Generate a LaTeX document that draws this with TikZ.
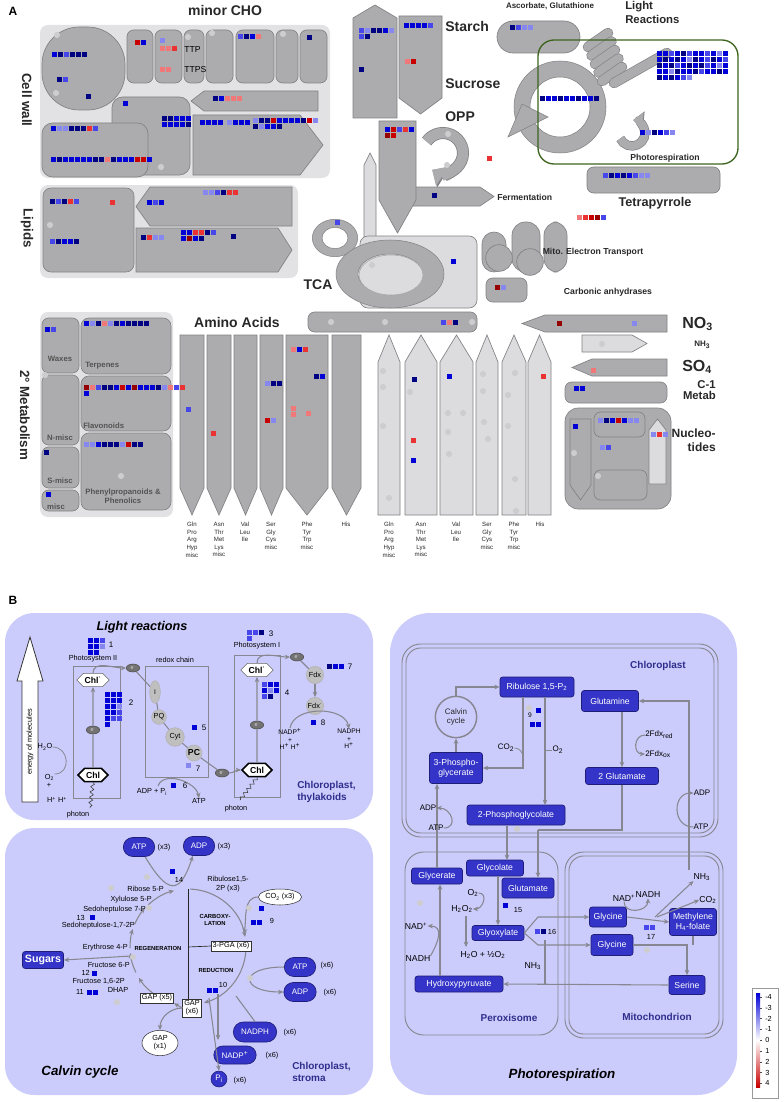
\documentclass[tikz,border=0pt]{standalone}
\usepackage{fontspec}
\setmainfont{Liberation Sans}
\usetikzlibrary{arrows.meta,calc,shapes.geometric,shapes.misc,shapes.symbols,decorations.pathmorphing}
\definecolor{B4}{RGB}{0,0,130}
\definecolor{B3}{RGB}{0,0,215}
\definecolor{B2}{RGB}{70,70,235}
\definecolor{B1}{RGB}{135,135,240}
\definecolor{R1}{RGB}{240,120,120}
\definecolor{R2}{RGB}{235,50,50}
\definecolor{R3}{RGB}{200,0,0}
\definecolor{R4}{RGB}{150,0,0}
\definecolor{gbox}{RGB}{172,172,174}
\definecolor{gedge}{RGB}{130,130,132}
\definecolor{gbg}{RGB}{226,226,229}
\definecolor{glt}{RGB}{220,220,222}
\definecolor{gdot}{RGB}{205,205,207}
\definecolor{lav}{RGB}{204,204,252}
\definecolor{dblue}{RGB}{52,52,200}
\definecolor{dbedge}{RGB}{30,30,120}
\definecolor{ttl}{RGB}{45,45,140}
\definecolor{agray}{RGB}{135,135,145}
\definecolor{lgreen}{RGB}{60,100,30}
\definecolor{txt}{RGB}{40,40,40}
\newcommand{\hm}[3]{\foreach \hc [count=\hi from 0] in {#3} {\fill[\hc] ({#1+6*\hi},#2) rectangle ++(5,5);}}
\newcommand{\gd}[2]{\fill[gdot] (#1,#2) circle (2.3pt);}
\newcommand{\pdown}[6]{\draw[#1] (#2,#4) -- (#3,#4) -- (#3,#5) -- ({(#2+#3)/2},#6) -- (#2,#5) -- cycle;}
\newcommand{\pup}[6]{\draw[#1] (#2,#6) -- (#2,#5) -- ({(#2+#3)/2},#4) -- (#3,#5) -- (#3,#6) -- cycle;}
\newcommand{\pright}[6]{\draw[#1] (#2,#5) -- (#3,#5) -- (#4,{(#5+#6)/2}) -- (#3,#6) -- (#2,#6) -- cycle;}
\newcommand{\pleft}[6]{\draw[#1] (#2,{(#5+#6)/2}) -- (#3,#5) -- (#4,#5) -- (#4,#6) -- (#3,#6) -- cycle;}
\tikzset{
 dk/.style={fill=gbox,draw=gedge,line width=0.5pt},
 lt/.style={fill=glt,draw=gedge,line width=0.5pt},
 hd/.style={font=\fontsize{10.5}{12}\selectfont\bfseries,inner sep=0,text=txt},
 hs/.style={font=\fontsize{6.5}{7.5}\selectfont\bfseries,inner sep=0,text=txt},
 sm/.style={font=\fontsize{5.8}{6.5}\selectfont\bfseries,inner sep=0,text=txt!80},
 aa/.style={font=\fontsize{4.6}{5.7}\selectfont,inner sep=0,align=center,anchor=north,text=txt},
 t5/.style={font=\fontsize{5}{5.6}\selectfont,inner sep=0,align=center},
 t55/.style={font=\fontsize{5.5}{6.2}\selectfont,inner sep=0,align=center},
 t6/.style={font=\fontsize{6}{6.8}\selectfont,inner sep=0,align=center},
 t65/.style={font=\fontsize{6.5}{7.4}\selectfont,inner sep=0,align=center},
 bi/.style={font=\fontsize{9.5}{11}\selectfont\bfseries\itshape,inner sep=0},
 ttlf/.style={font=\fontsize{7.5}{9}\selectfont\bfseries,text=ttl,inner sep=0},
 arr/.style={draw=agray,line width=0.8pt,-{Stealth[length=4pt,width=3.5pt]}},
 ln/.style={draw=agray,line width=0.8pt},
 wh/.style 2 args={minimum width=#1*0.75pt,minimum height=#2*0.75pt},
 bbx/.style={fill=dblue,draw=dbedge,line width=0.5pt,rounded corners=2pt,text=white,font=\fontsize{6.5}{7.2}\selectfont,align=center,inner sep=1pt},
 bpill/.style={rounded rectangle,fill=dblue,draw=dbedge,line width=0.5pt,text=white,font=\fontsize{6}{7}\selectfont,inner sep=1pt},
 hexn/.style={signal,signal to=east and west,draw=black!60,fill=white,font=\fontsize{6.5}{7}\selectfont\bfseries,inner sep=1pt,minimum height=10pt,minimum width=21pt},
 eln/.style={ellipse,fill=black!55,draw=black!70,text=black!15,font=\fontsize{4}{4}\selectfont,inner sep=0,minimum width=10pt,minimum height=6pt},
 gcn/.style={circle,fill=black!25,draw=black!30,font=\fontsize{5.5}{6}\selectfont,inner sep=0.5pt},
 wbox/.style={fill=white,draw=black!80,font=\fontsize{5.5}{6.2}\selectfont,inner sep=1.2pt,align=center},
}
\begin{document}
\begin{tikzpicture}[x=0.75pt,y=-0.75pt]
\useasboundingbox (0,0) rectangle (783,1102);
\fill[white] (0,0) rectangle (783,1102);

%%%%%%%%%%%%%%%% PANEL A %%%%%%%%%%%%%%%%
\node[font=\fontsize{9}{10}\selectfont\bfseries,inner sep=0] (lA) at (13,11) {A};
\node[hd] (lminor) at (225,10) {minor CHO};
% backgrounds
\fill[gbg,rounded corners=6pt] (40,25) rectangle (330,178);
\fill[gbg,rounded corners=6pt] (40,185) rectangle (298,278);
\fill[gbg,rounded corners=6pt] (40,312) rectangle (173,517);
% cell wall
\draw[dk,rounded corners=28pt] (42,27) rectangle (125,110);
\foreach \a/\b in {127/153,155/182,184/204,206/233,236/274,276/298,300/327} {\draw[dk,rounded corners=5pt] (\a,30) rectangle (\b,83);}
\draw[dk,rounded corners=8pt] (112,97) rectangle (190,175);
\pleft{dk}{191}{204}{318}{91}{111}
\pright{dk}{193}{300}{323}{115}{175}
\draw[dk,rounded corners=8pt] (42,123) rectangle (148,177);
\node[font=\fontsize{6.5}{7}\selectfont,inner sep=0,anchor=west] (lttp) at (184,50) {TTP};
\node[font=\fontsize{6.5}{7}\selectfont,inner sep=0,anchor=west] (lttps) at (184,70) {TTPS};
\node[hd,rotate=-90,font=\fontsize{10}{12}\selectfont\bfseries] (lcw) at (27,100) {Cell wall};
% lipids
\draw[dk,rounded corners=6pt] (43,188) rectangle (134,272);
\pleft{dk}{136}{150}{292}{187}{226}
\pright{dk}{136}{278}{292}{228}{272}
\node[hd,rotate=-90,font=\fontsize{10}{12}\selectfont\bfseries] (llip) at (27,228) {Lipids};
% starch / sucrose / OPP
\pup{dk}{353}{397}{5}{18}{118}
\pdown{dk}{399}{442}{16}{98}{114}
\pright{dk}{412}{480}{494}{187}{206}
\pdown{dk}{379}{416}{121}{200}{233}
\pup{lt}{364}{376}{153}{165}{245}
\node[hd,anchor=west] (lstarch) at (445,26) {Starch};
\node[hd,anchor=west] (lsuc) at (445,84) {Sucrose};
\node[hd,anchor=west] (lopp) at (445,117) {OPP};
\node[hs,anchor=west] (lferm) at (497,197) {Fermentation};
\draw[draw=gedge,line width=9pt,-{Triangle[width=18pt,length=10pt]}] ($(443,153)+(145:15pt)$) arc[start angle=145,end angle=-122,radius=15pt];
\draw[draw=gbox,line width=7.8pt,-{Triangle[width=16.5pt,length=9pt]}] ($(443,153)+(145:15pt)$) arc[start angle=145,end angle=-123,radius=15pt];
% ring
\fill[gbox,draw=gedge,even odd rule] (335,238) ellipse (17pt and 14pt) ellipse (9.75pt and 8pt);
% TCA
\draw[lt,rounded corners=6pt] (360,236) rectangle (477,308);
\fill[gbox,draw=gedge,even odd rule] (390,274) ellipse (40.5pt and 25.5pt) ellipse (24pt and 15pt);
\fill[glt,draw=gedge!70] (391,275) ellipse (24pt and 15pt);
\node[hd] (ltca) at (318,285) {TCA};
% mito
\draw[dk,rounded corners=9pt] (482,232) rectangle (506,272);
\draw[dk,rounded corners=10pt] (512,222) rectangle (540,272);
\draw[dk,rounded corners=10pt] (544,222) rectangle (567,272);
\draw[dk] (499,258) circle (10pt);
\draw[dk] (530,262) circle (10pt);
\node[hs] (lmito) at (593,252) {Mito. Electron Transport};
\draw[dk,rounded corners=5pt] (486,278) rectangle (527,302);
\node[hs] (lcarb) at (608,292) {Carbonic anhydrases};
% ascorbate
\draw[dk,rounded corners=12pt] (497,21) rectangle (580,53);
\node[hs,font=\fontsize{6}{7}\selectfont\bfseries] (lasc) at (550,6) {Ascorbate, Glutathione};
% light reactions area
\fill[gbox,draw=gedge,even odd rule] (560,107) circle (34.5pt) circle (22.5pt);
\fill[gbox,draw=gedge] (548,117) -- (508,137) -- (522,104) -- cycle;
\foreach \cx/\cy in {598/40,601.5/48.5,605/57,608.5/65.5,612/74} {
 \draw[gedge,line width=7.8pt,line cap=round] ({\cx-10},{\cy+7}) -- ({\cx+10},{\cy-7});
 \draw[gbox,line width=6.8pt,line cap=round] ({\cx-10},{\cy+7}) -- ({\cx+10},{\cy-7});}
\draw[gedge,line width=7.8pt,line cap=round] (614,83) -- (667,53);
\draw[gbox,line width=6.8pt,line cap=round] (614,83) -- (667,53);
\draw[draw=gedge,line width=7pt,-{Triangle[width=14pt,length=8pt]}] ($(632,133)+(205:9.75pt)$) arc[start angle=205,end angle=445,radius=9.75pt];
\draw[draw=gbox,line width=6pt,-{Triangle[width=12.5pt,length=7pt]}] ($(632,133)+(205:9.75pt)$) arc[start angle=205,end angle=444,radius=9.75pt];
\draw[lgreen,line width=1pt,rounded corners=12pt] (538,40) rectangle (738,164);
\node[hs,font=\fontsize{8.5}{10.5}\selectfont\bfseries,anchor=north west,align=left] (llight) at (625,1) {Light\\Reactions};
\node[hs] (lphot) at (665,158) {Photorespiration};
% tetrapyrrole
\draw[dk,rounded corners=5pt] (587,167) rectangle (720,193);
\node[hd,font=\fontsize{9.5}{11}\selectfont\bfseries] (ltet) at (655,203) {Tetrapyrrole};
% amino acids
\draw[dk,rounded corners=5pt] (308,312) rectangle (477,332);
\node[hd] (laa) at (237,322) {Amino Acids};
\foreach \a/\b in {180/204,207/231,234/257,260/283,286/328,332/361} {\pdown{dk}{\a}{\b}{335}{488}{515}}
\foreach \a/\b in {378/400,405/437,440/473,476/498,502/526,528/551} {\pup{lt}{\a}{\b}{335}{362}{515}}
\foreach \x/\t [count=\k] in {192/{Gln\\Pro\\Arg\\Hyp\\misc},219/{Asn\\Thr\\Met\\Lys\\misc},245/{Val\\Leu\\Ile},271/{Ser\\Gly\\Cys\\misc},307/{Phe\\Tyr\\Trp\\misc},346/{His},389/{Gln\\Pro\\Arg\\Hyp\\misc},421/{Asn\\Thr\\Met\\Lys\\misc},456/{Val\\Leu\\Ile},487/{Ser\\Gly\\Cys\\misc},514/{Phe\\Tyr\\Trp\\misc},540/{His}} {\node[aa] (aal\k) at (\x,522) {\t};}
% N, S, C1, nucleotides
\pleft{dk}{522}{545}{667}{315}{332}
\pright{lt}{582}{632}{647}{335}{352}
\pleft{dk}{572}{592}{667}{359}{376}
\draw[dk,rounded corners=5pt] (565,382) rectangle (667,403);
\draw[dk,rounded corners=10pt] (565,408) rectangle (671,509);
\pdown{dk}{570}{591}{419}{485}{500}
\draw[dk,rounded corners=5pt] (594,412) rectangle (645,437);
\draw[dk,rounded corners=5pt] (594,470) rectangle (647,500);
\pup{lt}{649}{666}{419}{430}{484}
\node[hd,font=\fontsize{12}{13}\selectfont\bfseries,anchor=west] (lno3) at (682,324) {NO\textsubscript{3}};
\node[hs,font=\fontsize{6}{7}\selectfont\bfseries,anchor=west] (lnh3) at (694,345) {NH\textsubscript{3}};
\node[hd,font=\fontsize{12}{13}\selectfont\bfseries,anchor=west] (lso4) at (682,367) {SO\textsubscript{4}};
\node[hd,font=\fontsize{8.5}{8.5}\selectfont\bfseries,anchor=east,align=right] (lc1) at (716,390) {C-1\\Metab};
\node[hd,font=\fontsize{9}{10.5}\selectfont\bfseries,anchor=east,align=right] (lnuc) at (716,440) {Nucleo-\\tides};
% secondary metabolism
\draw[dk,rounded corners=5pt] (42,318) rectangle (79,373);
\draw[dk,rounded corners=5pt] (42,375) rectangle (79,445);
\draw[dk,rounded corners=5pt] (42,447) rectangle (79,488);
\draw[dk,rounded corners=5pt] (42,490) rectangle (79,511);
\draw[dk,rounded corners=6pt] (81,318) rectangle (171,374);
\draw[dk,rounded corners=6pt] (81,376) rectangle (171,431);
\draw[dk,rounded corners=6pt] (81,433) rectangle (171,510);
\node[hd,rotate=-90,font=\fontsize{10}{12}\selectfont\bfseries] (l2m) at (25,415) {2° Metabolism};
\node[sm] (lwax) at (60,359) {Waxes};
\node[sm] (lnm) at (60,438) {N-misc};
\node[sm] (lsm) at (60,481) {S-misc};
\node[sm] (lmisc) at (56,507) {misc};
\node[sm,anchor=west] (lterp) at (85,366) {Terpenes};
\node[sm,anchor=west] (lflav) at (83,426) {Flavonoids};
\node[sm,align=center] (lphen) at (123,496) {Phenylpropanoids \&\\Phenolics};
% gray dots
\foreach \p/\q in {57/35,56/93,188/37,212/33,283/34,161/167,50/225,372/265,448/134,447/165,331/322,385/322,472/322,383/371,383/387,383/426,389/498,410/392,448/413,463/413,448/432,449/454,483/374,483/391,484/422,488/439,515/373,508/395,508/426,515/479,516/511,602/344,574/453,598/476,45/375,121/476} {\gd{\p}{\q}}
% heat-map squares, panel A
\hm{52}{52}{B3,B4,B2,B4,B4,B4}
\hm{57}{77}{B4,B2}
\hm{86}{94}{B4}
\hm{135}{40}{R3,B3}
\hm{160}{38}{B1}
\hm{160}{46}{R1,R1,R2}
\hm{160}{67}{R1,R1}
\hm{238}{34}{B2,B4,B3,R1}
\hm{307}{35}{B4}
\hm{123}{101}{B3}
\hm{162}{116}{B4,B4,B3,B3,B3}
\hm{162}{122}{B3,B3,B3,B3,B4}
\hm{213}{96}{B4,B3,R1,R1,R1}
\hm{200}{120}{B3,B3,B3,B3}
\hm{227}{120}{B1,B3,B3,B3}
\hm{253}{118}{B1,B4,B4,R3,B3,B3,B3,B3,B4,R3,B1}
\hm{253}{124}{B4,B1,B3,B3,B4}
\hm{51}{126}{B3,B1,B1,B4,B4,B4,R2,B2}
\hm{51}{157}{B3,B4,B3,B3,B3,B3,B3,B4,B4,R1,B4,B3,B3,B3,R3,R3,B3}
\hm{50}{199}{B4,B2,B4,R2,B2}
\hm{110}{200}{R2}
\hm{147}{200}{B3,B2,B3}
\hm{203}{190}{B1,B1,B2,B4,R2,R2}
\hm{50}{239}{B2,B4,B3,B3,B4}
\hm{141}{235}{B4,R2,B1,B1}
\hm{181}{230}{B3,B3,R2,R2,B4,B2}
\hm{181}{236}{B3,R4,B3,B4}
\hm{231}{234}{B4}
\hm{359}{28}{B2,B1,B4,B4,B3,B1}
\hm{359}{34}{B2,B4}
\hm{359}{67}{B4}
\hm{404}{23}{B3,B3,B3,B3,B2}
\hm{405}{59}{R1,R3}
\hm{385}{127}{B3,R3,B2,R2,B3}
\hm{385}{133}{R4,R3}
\hm{432}{193}{B4}
\hm{487}{156}{R2}
\hm{510}{25}{B4,B2,B1,B1}
\hm{657}{51}{B3,B3,B2,B3,B4,B2,B3,B3,B2,B3,B1,B3}
\hm{657}{57}{B3,B4,B3,B4,B3,B1,B4,B3,B2,B4,B3,B2}
\hm{657}{63}{B4,B3,B4,B2,B3,B4,B3,B4,B2,B3,B1,B3}
\hm{657}{69}{B3,B3,B1,B4,B3,B3,B4,B2,B3,B3,B4,B3}
\hm{657}{75}{B4,B3,B4,B3,B2,B1}
\hm{540}{96}{B4,B3,B3,B4,B3,B3,B4,B3,B3,B4}
\hm{640}{130}{B3,B1,B4,B3,B2,B1}
\hm{603}{173}{B2,B4,B3,B4,B3,B2,B1,B1}
\hm{577}{215}{R1,R2,R3,R4,B2}
\hm{335}{220}{B2}
\hm{451}{259}{B3}
\hm{45}{327}{B3,B2}
\hm{84}{321}{B3,B1,B4,R1,B1,B4,B3,B4,B4,B4,B4}
\hm{84}{385}{R4,R1,B2,B4,B4,B3,R3,B3,R4,B3,B3,B3,B4,B1,R1,B2,R2}
\hm{84}{391}{B3}
\hm{44}{450}{B4}
\hm{46}{492}{B3}
\hm{84}{442}{B1,B1,B3,B4,B4,B4,B1,R3,B4,B4}
\hm{186}{407}{B2}
\hm{211}{431}{R2}
\hm{265}{381}{B1,B4,B4}
\hm{265}{418}{R3,B1}
\hm{291}{347}{R1,B3,R2}
\hm{314}{374}{B4,B3}
\hm{291}{406}{R1}
\hm{291}{412}{R1}
\hm{306}{411}{R1}
\hm{441}{320}{B2,R1,B4}
\hm{495}{285}{R4,B1}
\hm{412}{377}{B4}
\hm{447}{374}{B3}
\hm{411}{438}{R2}
\hm{411}{458}{B3}
\hm{541}{374}{R2}
\hm{557}{321}{R4}
\hm{632}{321}{B1}
\hm{591}{368}{R1}
\hm{574}{386}{B3,B3}
\hm{573}{424}{B3}
\hm{598}{418}{B1,B4,B3,R3,B3,B1,B1}
\hm{600}{445}{B1,B2}
\hm{651}{432}{B1,R2,B1}

%%%%%%%%%%%%%%%% PANEL B %%%%%%%%%%%%%%%%
\node[font=\fontsize{9}{10}\selectfont\bfseries,inner sep=0] (lB) at (13,600) {B};
\fill[lav,rounded corners=22pt] (5,613) rectangle (373,820);
\fill[lav,rounded corners=22pt] (5,828) rectangle (373,1095);
\fill[lav,rounded corners=30pt] (390,613) rectangle (737,1095);

% ---- light reactions
\node[bi] (tlr) at (142,627) {Light reactions};
\draw[fill=white,draw=black!80,line width=0.6pt] (22,802) -- (22,681) -- (17,681) -- (30,637) -- (43,681) -- (38,681) -- (38,802) -- cycle;
\node[t55,rotate=90] (teom) at (30,742) {energy of molecules};
\draw[draw=agray,line width=0.6pt] (73,666) rectangle (120,798);
\draw[draw=agray,line width=0.6pt] (145,666) rectangle (208,777);
\draw[draw=agray,line width=0.6pt] (234,655) rectangle (280,797);
\node[t55] (tps2) at (93,659) {Photosystem II};
\node[t55] (trdx) at (175,660) {redox chain};
\node[t55] (tps1) at (257,646) {Photosystem I};
\node[hexn] (c2s) at (93,680) {Chl\textsuperscript{·}};
\node[hexn,line width=1.1pt,draw=black] (c2) at (93,775) {Chl};
\node[eln] (e2) at (93,730) {e\textsuperscript{-}};
\draw[ln] (c2) -- (e2);
\draw[arr] (e2) -- (c2s);
\node[eln] (e3) at (133,668) {e\textsuperscript{-}};
\draw[arr] (c2s.north) to[out=90,in=180] (e3.west);
\node[ellipse,fill=black!25,draw=black!30,minimum width=8pt,minimum height=17pt,inner sep=0,font=\fontsize{5}{5}\selectfont] (cI) at (155,692) {I};
\node[gcn,minimum size=11pt] (pq) at (159,717) {PQ};
\node[gcn,minimum size=14pt] (cyt) at (175,737) {Cyt};
\node[gcn,minimum size=12pt,font=\fontsize{6.5}{7}\selectfont\bfseries] (pc) at (194,753) {PC};
\node[eln] (e4) at (222,773) {e\textsuperscript{-}};
\draw[ln] (e3) -- (cI) -- (pq) -- (cyt) -- (pc) -- (e4);
\node[hexn,line width=1.1pt,draw=black] (c1) at (257,770) {Chl};
\node[eln] (e5) at (257,725) {e\textsuperscript{-}};
\node[hexn] (c1s) at (257,670) {Chl\textsuperscript{·}};
\draw[arr] (e4.east) to[out=0,in=180] (c1.west);
\draw[ln] (c1) -- (e5);
\draw[arr] (e5) -- (c1s);
\node[eln] (e6) at (297,657) {e\textsuperscript{-}};
\draw[arr] (c1s.north) to[out=90,in=180] (e6.west);
\node[gcn,minimum size=13pt] (fdx) at (315,675) {Fdx};
\node[gcn,minimum size=13pt] (fdx2) at (315,706) {Fdx\textsuperscript{·}};
\draw[ln] (e6) -- (fdx);
\draw[arr] (fdx) -- (fdx2);
\node[t5] (tnadp) at (290,739) {NADP\textsuperscript{+}\\+\\H\textsuperscript{+} H\textsuperscript{+}};
\node[t5] (tnadph) at (349,739) {NADPH\\+\\H\textsuperscript{+}};
\draw[arr] (tnadp.north) to[out=80,in=100] (tnadph.north);
\node[t55] (th2o) at (45,747) {H\textsubscript{2}O};
\node[t55] (to2) at (49,781) {\,O\textsubscript{2}\\+};
\node[t55] (thh) at (57,800) {H\textsuperscript{+} H\textsuperscript{+}};
\draw[ln,line width=0.6pt] (th2o.east) to[out=0,in=0,looseness=1.6] (to2.north east);
\draw[black!80,decorate,decoration={snake,amplitude=1.3pt,segment length=4pt}] (c2.south) -- (90,808);
\node[t55] (tph1) at (78,815) {photon};
\draw[black!80,decorate,decoration={snake,amplitude=1.3pt,segment length=4pt}] (c1.south) -- (240,800);
\node[t55] (tph2) at (236,809) {photon};
\node[t55] (tadp) at (152,792) {ADP + P\textsubscript{i}};
\node[t55] (tatp) at (199,801) {ATP};
\draw[arr] (158,786) to[out=70,in=100] (tatp.north);
\node[ttlf,align=left,anchor=west] (tctl) at (297,792) {Chloroplast,\\thylakoids};
\hm{88}{638}{B3,B3,B2}
\hm{88}{644}{B3,B3,B1}
\hm{88}{650}{B3,B3}
\node[t6] (n1) at (111,645) {1};
\hm{105}{692}{B3,B3,B3}
\hm{105}{698}{B3,B3,B3}
\hm{105}{704}{B3,B3,B1}
\hm{105}{710}{B3,B3,B2}
\hm{105}{716}{B3,B2,B2}
\hm{105}{722}{B3}
\node[t6] (n2) at (131,703) {2};
\hm{247}{630}{B2,B2,B4}
\hm{247}{636}{B2}
\node[t6] (n3) at (271,634) {3};
\hm{262}{682}{B2,B3,B3}
\hm{262}{688}{B3,B1,B3}
\hm{262}{694}{B2,B4}
\node[t6] (n4) at (287,693) {4};
\hm{192}{725}{B3}
\node[t6] (n5) at (204,728) {5};
\hm{186}{763}{B1}
\node[t6] (n7a) at (198,769) {7};
\hm{171}{783}{B3}
\node[t6] (n6) at (185,786) {6};
\hm{327}{664}{B4,B3,B3}
\node[t6] (n7b) at (350,667) {7};
\hm{311}{720}{B3}
\node[t6] (n8) at (323,723) {8};

% ---- Calvin cycle
\coordinate (cc) at (188,947);
\draw[arr] ($(cc)+(88:43.5pt)$) arc[start angle=88,end angle=10,radius=43.5pt];
\draw[arr] ($(cc)+(-4:43.5pt)$) arc[start angle=-4,end angle=-74,radius=43.5pt];
\foreach \s/\e in {240/212,206/186,181/162,157/138,133/104} {\draw[arr] ($(cc)+(\s:43.5pt)$) arc[start angle=\s,end angle=\e,radius=43.5pt];}
\draw[black!85,line width=0.5pt] (188,889) -- (188,1000);
\node[wbox] (pga3) at (231,946) {3-PGA (x6)};
\draw[black!85,line width=0.5pt] (188,947) -- (pga3.west);
\node[wbox] (gap5) at (157,998) {GAP (x5)};
\node[wbox] (gap6) at (192,1008) {GAP\\(x6)};
\node[ellipse,fill=white,draw=black!80,font=\fontsize{5.5}{6.2}\selectfont,align=center,inner sep=0.5pt,minimum width=27pt,minimum height=19pt] (gap1) at (160,1043) {GAP\\(x1)};
\draw[arr] (gap6.west) -- (gap5.south east);
\draw[arr] (gap6.west) to[out=180,in=90] (gap1.north);
\node[bbx,font=\fontsize{8}{9}\selectfont\bfseries,wh={41}{17}] (sug) at (43,960) {Sugars};
\draw[arr] (131,956) -- (sug.east);
\node[font=\fontsize{4.4}{5}\selectfont\bfseries,align=center,inner sep=0] (tcarb) at (215,920) {CARBOXY-\\LATION};
\node[font=\fontsize{4.4}{5}\selectfont\bfseries,inner sep=0] (treg) at (158,948) {REGENERATION};
\node[font=\fontsize{4.4}{5}\selectfont\bfseries,inner sep=0] (tred) at (216,970) {REDUCTION};
\node[t55,anchor=east] (tr5p) at (164,889) {Ribose 5-P};
\node[t55,anchor=east] (tx5p) at (152,900) {Xylulose 5-P};
\node[t55,anchor=east] (ts7p) at (146,910) {Sedoheptulose 7-P};
\node[t55,anchor=east] (t13) at (85,918) {13};
\hm{90}{915}{B3}
\node[t55,anchor=east] (ts17) at (135,926) {Sedoheptulose-1,7-2P};
\node[t55,anchor=east] (te4p) at (128,948) {Erythrose 4-P};
\node[t55,anchor=east] (tf6p) at (130,965) {Fructose 6-P};
\node[t55,anchor=east] (t12) at (90,973) {12};
\hm{92}{971}{B3}
\node[t55,anchor=east] (tf16) at (125,981) {Fructose 1,6-2P};
\node[t55] (tdhap) at (118,990) {DHAP};
\node[t55,anchor=east] (t11) at (84,992) {11};
\hm{87}{990}{B3,B3}
\node[bpill,wh={34}{19}] (atp3) at (139,847) {ATP};
\node[t55] (tx3a) at (164,848) {(x3)};
\node[bpill,wh={34}{19}] (adp3) at (199,846) {ADP};
\node[t55] (tx3b) at (224,847) {(x3)};
\draw[arr] (atp3.south east) .. controls (168,895) and (180,895) .. (adp3.south west);
\hm{170}{869}{B3}
\node[t55] (t14) at (179,880) {14};
\node[t55] (tru) at (228,884) {Ribulose1,5-\\2P (x3)};
\node[ellipse,fill=white,draw=black!80,font=\fontsize{5.5}{6.2}\selectfont,inner sep=0.5pt,minimum width=31pt,minimum height=12pt] (co23) at (280,897) {CO\textsubscript{2} (x3)};
\draw[arr] (co23.west) to[out=180,in=80] (244,934);
\hm{259}{906}{B3}
\hm{251}{920}{B3,B3}
\node[t55] (t9) at (272,921) {9};
\node[bpill,wh={34}{19}] (atp6) at (300,967) {ATP};
\node[t55] (tx6a) at (327,966) {(x6)};
\node[bpill,wh={35}{19}] (adp6) at (300,992) {ADP};
\node[t55] (tx6b) at (330,993) {(x6)};
\draw[arr] (atp6.west) .. controls (238,967) and (240,992) .. (adp6.west);
\hm{207}{988}{B3,B3}
\node[t55] (t10) at (223,985) {10};
\node[bpill,wh={46}{20}] (nadph6) at (255,1032) {NADPH};
\node[t55] (tx6c) at (290,1033) {(x6)};
\node[bpill,wh={45}{18}] (nadp6) at (235,1055) {NADP\textsuperscript{+}};
\node[t55] (tx6d) at (272,1056) {(x6)};
\node[circle,fill=dblue,draw=dbedge,text=white,inner sep=0.5pt,minimum size=12pt,font=\fontsize{6}{6}\selectfont] (pi6) at (219,1079) {P\textsubscript{i}};
\node[t55] (tx6e) at (240,1081) {(x6)};
\draw[ln] (nadph6.north) -- (236,996);
\draw[arr] (218,994) -- (218,1040);
\draw[arr] (209,998) -- (pi6.north);
\node[bi,font=\fontsize{10}{11}\selectfont\bfseries\itshape] (tcal) at (80,1072) {Calvin cycle};
\node[ttlf,align=left,anchor=west] (tcst) at (292,1072) {Chloroplast,\\stroma};
\foreach \p/\q in {147/877,111/888,149/908,133/957,117/1002,249/908,250/978,529/708,517/829,420/903,647/950} {\gd{\p}{\q}}

% ---- Photorespiration
\draw[agray,line width=0.7pt,rounded corners=14pt] (402,644) rectangle (718,837);
\draw[agray,line width=0.7pt,rounded corners=11pt] (406,648) rectangle (714,833);
\draw[agray,line width=0.7pt,rounded corners=14pt] (405,852) rectangle (558,1035);
\draw[agray,line width=0.7pt,rounded corners=14pt] (565,852) rectangle (723,1038);
\draw[agray,line width=0.7pt,rounded corners=11pt] (569,856) rectangle (719,1034);
\node[ttlf] (tchl) at (658,666) {Chloroplast};
\node[ttlf] (tper) at (509,1018) {Peroxisome};
\node[ttlf] (tmit) at (657,1017) {Mitochondrion};
\node[bi,font=\fontsize{10}{11}\selectfont\bfseries\itshape] (tpr) at (562,1075) {Photorespiration};
\node[bbx,wh={74}{20}] (rub) at (537,687) {Ribulose 1,5-P\textsubscript{2}};
\node[bbx,wh={57}{21}] (gln) at (610,701) {Glutamine};
\node[bbx,wh={53}{31}] (pga) at (456,768) {3-Phospho-\\glycerate};
\node[bbx,wh={73}{17}] (glu2) at (622,776) {2 Glutamate};
\node[bbx,wh={98}{20}] (pgly) at (516,815) {2-Phosphoglycolate};
\node[bbx,wh={57}{16}] (glyc) at (495,868) {Glycolate};
\node[bbx,wh={51}{16}] (glyr) at (437,876) {Glycerate};
\node[bbx,wh={52}{20}] (glut) at (528,888) {Glutamate};
\node[bbx,wh={52}{15}] (glox) at (498,933) {Glyoxylate};
\node[bbx,wh={88}{16}] (hyd) at (459,984) {Hydroxypyruvate};
\node[bbx,wh={37}{20}] (gly1) at (608,917) {Glycine};
\node[bbx,wh={42}{21}] (gly2) at (612,945) {Glycine};
\node[bbx,wh={47}{27}] (meth) at (693,922) {Methylene\\H\textsubscript{4}-folate};
\node[bbx,wh={36}{19}] (ser) at (687,985) {Serine};
\node[circle,draw=agray,line width=1.1pt,minimum size=31pt,inner sep=0,font=\fontsize{6}{7}\selectfont,align=center,text=txt] (cal) at (456,717) {Calvin\\cycle};
\draw[arr] (cal.north) |- (rub.west);
\draw[arr] (pga.north) -- (cal.south);
\draw[arr] (523,697) |- (pga.east);
\draw[arr] (545,697) -- (545,805);
\node[t6] (tco2p) at (506,748) {CO\textsubscript{2}};
\draw[ln,line width=0.6pt] (tco2p.east) to[out=0,in=90] (523,757);
\node[t6] (to2p) at (558,750) {O\textsubscript{2}};
\draw[ln,line width=0.6pt] (545,750) -- (to2p.west);
\hm{536}{708}{B3}
\hm{530}{722}{B3,B3}
\node[t5] (t9p) at (530,715) {9};
\draw[arr] (gln.south -| glu2.north) -- (glu2.north);
\node[t6,anchor=west] (tfr) at (645,735) {2Fdx\textsubscript{red}};
\node[t6,anchor=west] (tfo) at (645,754) {2Fdx\textsubscript{ox}};
\draw[arr] (tfr.west) to[out=180,in=180,looseness=1.6] (tfo.west);
\draw[ln] (glu2.south) -- (622,830) -- (538,830);
\draw[arr] (538,830) -- (glut.north -| 538,0);
\draw[arr] (507,826) -- (507,860);
\draw[arr] (glyr.north) -- (pga.south -| glyr.north);
\node[t6] (tadpl) at (428,808) {ADP};
\node[t6] (tatpl) at (436,828) {ATP};
\draw[arr] (tatpl.east) to[out=0,in=0,looseness=1.8] (tadpl.east);
\node[t6] (tadpr) at (702,793) {ADP};
\node[t6] (tatpr) at (701,827) {ATP};
\draw[arr] (tatpr.west) to[out=180,in=180,looseness=1.6] (tadpr.west);
\node[t65] (tnh3m) at (702,877) {NH\textsubscript{3}};
\draw[arr] (689,870) |- (gln.east);
\node[t65] (to2x) at (473,893) {O\textsubscript{2}};
\node[t65] (th2o2) at (462,909) {H\textsubscript{2}O\textsubscript{2}};
\draw[arr] (to2x.east) to[out=0,in=0,looseness=1.5] (th2o2.east);
\draw[arr] (498,876) -- (glox.north -| 498,0);
\node[t65] (th2ox) at (483,955) {H\textsubscript{2}O + ½O\textsubscript{2}};
\draw[arr] (466,916) -- (466,947);
\hm{503}{903}{B3}
\node[t55] (t15) at (518,910) {15};
\hm{535}{929}{B2,B4}
\node[t55] (t16) at (552,932) {16};
\draw[arr] (glox.east) -- (538,917) -- (gly1.west);
\draw[arr] (glox.east) -- (538,945) -- (gly2.west);
\node[t65] (tnh3p) at (533,966) {NH\textsubscript{3}};
\draw[ln] (545,940) -- (545,985);
\node[t65] (tnadl) at (416,926) {NAD\textsuperscript{+}};
\node[t65] (tnadhl) at (418,959) {NADH};
\draw[arr] (tnadhl.north east) to[out=60,in=0,looseness=1.4] (tnadl.east);
\draw[arr] (440,976) -- (glyr.south -| 440,0);
\draw[arr] (ser.west) -- (hyd.east);
\node[t65] (tnadm) at (624,898) {NAD\textsuperscript{+}};
\node[t65] (tnadhm) at (648,895) {NADH};
\draw[arr] (tnadm.south) to[out=-90,in=-90,looseness=1.4] (tnadhm.south);
\draw[arr] (gly1.east) -- (meth.west);
\draw[arr] (655,917) -- (tnh3m.south west);
\node[t65] (tco2m) at (708,900) {CO\textsubscript{2}};
\draw[arr] (657,917) -- (tco2m.west);
\draw[arr] (gly2.east) -| (ser.north);
\draw[ln] (meth.south) -- (693,945);
\hm{644}{925}{B2,B2}
\node[t55] (t17) at (651,937) {17};

% legend
\draw[black!40,fill=white,line width=0.4pt] (752,988) rectangle (778,1098);
\shade[top color=B3,bottom color=white] (756,993) rectangle (760,1040);
\shade[top color=white,bottom color=R3] (756,1040) rectangle (760,1087);
\foreach \v [count=\k from 0] in {-4,-3,-2,-1,0,1,2,3,4} {
  \draw[black!70,line width=0.3pt] (760,{997+10.8*\k}) -- (762,{997+10.8*\k});
  \node[font=\fontsize{5.5}{6}\selectfont,inner sep=0,anchor=west] (lg\k) at (765,{997+10.8*\k}) {\v};}
\end{tikzpicture}
\end{document}
